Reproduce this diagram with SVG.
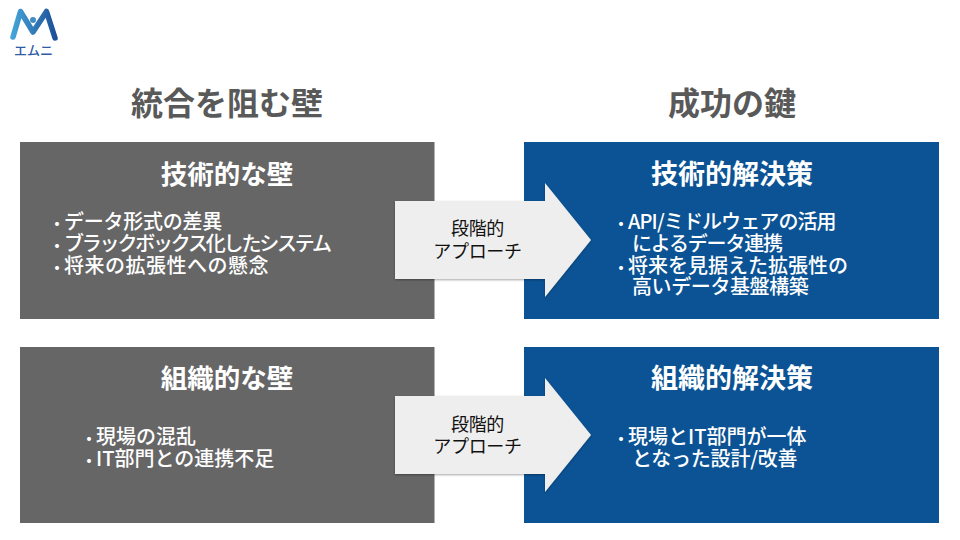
<svg xmlns="http://www.w3.org/2000/svg" width="960" height="540" viewBox="0 0 960 540">
<style>
text{font-family:"Noto Sans CJK JP","Liberation Sans",sans-serif}
.hd{font-size:32px;font-weight:700;fill:#595959;text-anchor:middle}
.tt{font-size:26.500px;font-weight:700;fill:#fff;text-anchor:middle}
.tr{font-size:27px}
.bd{font-size:20px;font-weight:500;fill:#fff}
.bu{font-size:14px;font-weight:900}
.ar{font-size:18px;fill:#111;text-anchor:middle;letter-spacing:-.3px}
.gr{fill:#666}.bl{fill:#0b5394}
.arrow{fill:#eee;filter:url(#sh)}
</style>
<defs>
<filter id="sh" x="-10%" y="-10%" width="120%" height="120%"><feDropShadow dx="0" dy="1" stdDeviation="1.2" flood-color="#000" flood-opacity=".35"/></filter>
<linearGradient id="lg" gradientUnits="userSpaceOnUse" x1="12" x2="56" y1="25" y2="25"><stop offset="0" stop-color="#45a5d8"/><stop offset="1" stop-color="#1c4f98"/></linearGradient>
</defs>
<g id="logo">
<path d="M13 37L20.500 11.500L33 32L46.500 11.500L55 38" fill="none" stroke="url(#lg)" stroke-width="5.500" stroke-linejoin="round" stroke-linecap="round"/>
<circle cx="33" cy="20" r="3" fill="#3f8cc6"/>
<text x="33.500" y="55" font-size="13" font-weight="500" fill="#2f5ba5" text-anchor="middle">エムニ</text>
</g>
<g id="head-left"><text class="hd" x="227" y="115">統合を阻む壁</text></g>
<g id="head-right"><text class="hd" x="732" y="115">成功の鍵</text></g>
<g id="box-tech-wall"><rect class="gr" x="20" y="142" width="414.500" height="177"/>
<text class="tt" x="227" y="184">技術的な壁</text>
<text class="bd" y="229"><tspan class="bu" x="50">・</tspan><tspan x="64" letter-spacing="-.25">データ形式の差異</tspan></text>
<text class="bd" y="251"><tspan class="bu" x="50">・</tspan><tspan x="64" letter-spacing="-2.2">ブラックボックス化したシステム</tspan></text>
<text class="bd" y="273"><tspan class="bu" x="50">・</tspan><tspan x="64" letter-spacing=".5">将来の拡張性への懸念</tspan></text></g>
<g id="box-org-wall"><rect class="gr" x="20" y="347" width="414.500" height="176"/>
<text class="tt" x="227" y="388">組織的な壁</text>
<text class="bd" y="444"><tspan class="bu" x="82">・</tspan><tspan x="96">現場の混乱</tspan></text>
<text class="bd" y="466"><tspan class="bu" x="82">・</tspan><tspan x="96">IT部門との連携不足</tspan></text></g>
<g id="box-tech-sol"><rect class="bl" x="524" y="142" width="415" height="177"/>
<text class="tt tr" x="732" y="184">技術的解決策</text>
<text class="bd" y="229"><tspan class="bu" x="614">・</tspan><tspan x="628" letter-spacing="-.9">API/ミドルウェアの活用</tspan></text>
<text class="bd" x="632" y="251" letter-spacing="-1.2">によるデータ連携</text>
<text class="bd" y="273"><tspan class="bu" x="614">・</tspan><tspan x="628">将来を見据えた拡張性の</tspan></text>
<text class="bd" x="632" y="294" letter-spacing="-.4">高いデータ基盤構築</text></g>
<g id="box-org-sol"><rect class="bl" x="524" y="347" width="415" height="176"/>
<text class="tt tr" x="732" y="388">組織的解決策</text>
<text class="bd" y="444"><tspan class="bu" x="614">・</tspan><tspan x="628">現場とIT部門が一体</tspan></text>
<text class="bd" x="632" y="466" letter-spacing="-.2">となった設計/改善</text></g>
<g id="arrow-top"><path class="arrow" d="M395 201H545V183L591 240L545 297V279H395Z"/>
<text class="ar" x="477.500" y="235">段階的</text><text class="ar" x="477.500" y="258">アプローチ</text></g>
<g id="arrow-bottom"><path class="arrow" d="M395 396H545V378L591 435L545 492V474H395Z"/>
<text class="ar" x="477.500" y="431">段階的</text><text class="ar" x="477.500" y="453">アプローチ</text></g>
</svg>
